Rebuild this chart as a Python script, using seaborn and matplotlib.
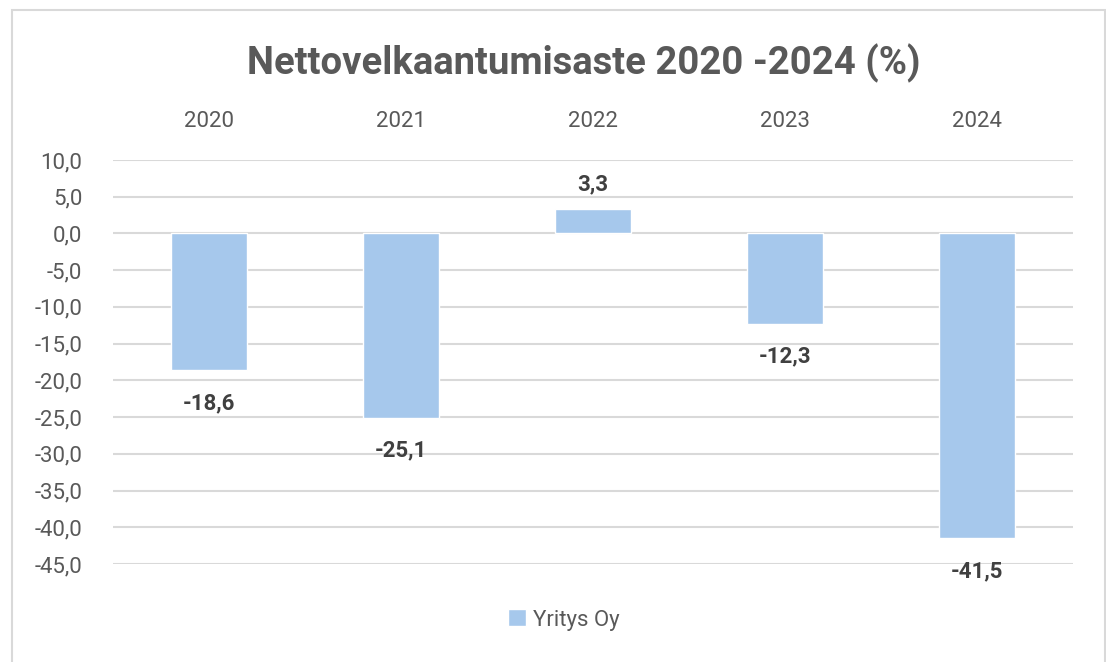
import matplotlib
matplotlib.use('Agg')
import matplotlib.pyplot as plt
import seaborn as sns
import pandas as pd

# chart data
years = ['2020', '2021', '2022', '2023', '2024']
values = [-18.6, -25.1, 3.3, -12.3, -41.5]
series_name = 'Yritys Oy'
title = 'Nettovelkaantumisaste 2020 -2024 (%)'
y_ticks = [10, 5, 0, -5, -10, -15, -20, -25, -30, -35, -40, -45]

bar_color = '#A6C8EC'
text_color = '#595959'
grid_color = '#D9D9D9'

sns.set_theme(style='white')
plt.rcParams['font.family'] = ['Roboto', 'DejaVu Sans']

df = pd.DataFrame({'year': years, 'value': values, 'series': series_name})

fig = plt.figure(figsize=(11.06, 6.62), dpi=100)
ax = fig.add_axes([113 / 1106, 1 - 564 / 662, 960 / 1106, 404 / 662])

for t in y_ticks:
    ax.axhline(t, color=grid_color, lw=1.5, zorder=0)

sns.barplot(data=df, x='year', y='value', hue='series', palette=[bar_color],
            width=0.4, ax=ax, zorder=2, saturation=1)

ax.set_ylim(-45, 10)
ax.set_xlim(-0.5, len(years) - 0.5)
ax.set_yticks(y_ticks)
ax.set_yticklabels([f'{t:.1f}'.replace('.', ',') for t in y_ticks])
ax.xaxis.tick_top()
ax.tick_params(axis='both', length=0, labelsize=16, colors=text_color)
ax.tick_params(axis='x', pad=20)
ax.tick_params(axis='y', pad=22)
ax.set_xlabel('')
ax.set_ylabel('')
for s in ax.spines.values():
    s.set_visible(False)

for i, v in enumerate(values):
    lbl = f'{v:.1f}'.replace('.', ',')
    if v < 0:
        ax.annotate(lbl, (i, v), xytext=(0, -22), textcoords='offset pixels',
                    ha='center', va='top', fontsize=16, fontweight='bold', color='#404040')
    else:
        ax.annotate(lbl, (i, v), xytext=(0, 14), textcoords='offset pixels',
                    ha='center', va='bottom', fontsize=16, fontweight='bold', color='#404040')

ax.legend(loc='center', bbox_to_anchor=(564 / 1106, 1 - 620 / 662),
          bbox_transform=fig.transFigure, frameon=False, fontsize=16,
          handlelength=0.8, handleheight=0.8, handletextpad=0.3,
          labelcolor=text_color)

fig.text(584 / 1106, 1 - 63 / 662, title, ha='center', va='center',
         fontsize=27.5, fontweight='bold', color=text_color)

# chart area frame
fig.add_artist(plt.Rectangle((12 / 1106, -0.01), 1093 / 1106, 1 - 10 / 662 + 0.01,
                             transform=fig.transFigure, fill=False,
                             edgecolor='#D9D9D9', lw=1.5))

fig.savefig('out.png', dpi=100, facecolor='white')
